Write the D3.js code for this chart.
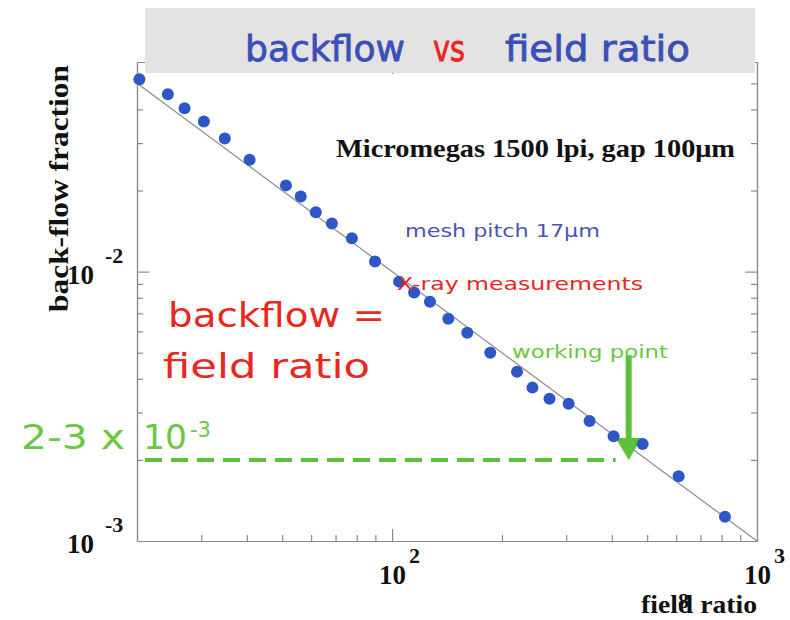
<!DOCTYPE html>
<html>
<head>
<meta charset="utf-8">
<script src="https://cdn.jsdelivr.net/npm/d3@7"></script>
<style>
  body { margin: 0; background: #fff; }
  svg { display: block; }
</style>
</head>
<body>
<svg id="chart" width="790" height="620"></svg>
<script>
var fieldRatio = [20.3, 24.3, 27.0, 30.5, 34.8, 40.7, 51.2, 56.2, 61.8, 68.4, 77.6, 89.8, 104.5, 114.9,
                  127, 142.6, 160.7, 185.8, 220, 242.5, 270, 304.6, 347.7, 404.6, 486, 610, 817];
var backflow   = [0.0518, 0.0455, 0.0404, 0.0361, 0.0312, 0.0260, 0.0209, 0.0190, 0.0166, 0.0151, 0.0133,
                  0.0109, 0.00918, 0.00836, 0.00773, 0.00668, 0.00593, 0.00500, 0.00425, 0.00371,
                  0.00337, 0.00323, 0.00279, 0.00245, 0.00229, 0.00174, 0.00123];

// backflow = 1 / field ratio
var fitX = [20, 1000];
var fitY = [0.05, 0.001];

var xMinorTicks = [30, 40, 50, 60, 70, 80, 90, 200, 300, 400, 500, 600, 700, 800, 900];
var xMajorTicks = [100];
var yMinorTicks = [0.002, 0.003, 0.004, 0.005, 0.006, 0.007, 0.008, 0.009, 0.02, 0.03, 0.04, 0.05];
var yMajorTicks = [0.01];
var xTickLabels = [{v: 100, exp: "2"}, {v: 1000, exp: "3"}];
var yTickLabels = [{v: 0.01, exp: "-2"}, {v: 0.001, exp: "-3"}];

// working point
var workX = 445, workTop = 0.0049, workLevel = 0.002, dashEnd = 410;

var svg = d3.select("#chart");
var x = d3.scaleLog().domain([20, 1000]).range([137, 757]);
var y = d3.scaleLog().domain([0.001, 0.06]).range([541, 62]);

var serif = "Liberation Serif, Times New Roman, serif";
var hand = "DejaVu Sans, sans-serif";

// ---- frame and ticks ----
function styleAxis(g){
	g.select(".domain").attr("stroke", "#8a8a8a").attr("stroke-width", 1.2);
	g.selectAll(".tick line").attr("stroke", "#8a8a8a").attr("stroke-width", 1.2);
	g.selectAll(".tick text").remove();
}
var axes = [
	{gen: d3.axisBottom, sc: x, t: "translate(0,541)", minor: xMinorTicks, major: xMajorTicks},
	{gen: d3.axisTop,    sc: x, t: "translate(0,62)",  minor: xMinorTicks, major: xMajorTicks},
	{gen: d3.axisLeft,   sc: y, t: "translate(137,0)", minor: yMinorTicks, major: yMajorTicks},
	{gen: d3.axisRight,  sc: y, t: "translate(757,0)", minor: yMinorTicks, major: yMajorTicks}
];
axes.forEach(function(a){
	svg.append("g").attr("transform", a.t)
		.call(a.gen(a.sc).tickValues(a.minor).tickSize(-6).tickSizeOuter(0).tickFormat(""))
		.call(styleAxis);
	svg.append("g").attr("transform", a.t)
		.call(a.gen(a.sc).tickValues(a.major).tickSize(-12).tickSizeOuter(0).tickFormat(""))
		.call(styleAxis);
});

// ---- title box ----
svg.append("rect").attr("x", 145).attr("y", 8).attr("width", 610).attr("height", 65).attr("fill", "#e3e3e3");
var title = svg.append("text").attr("y", 61).attr("font-family", hand).attr("font-size", 36)
	.attr("stroke-width", 0.8);
title.append("tspan").attr("x", 245).attr("fill", "#3b50b4").attr("stroke", "#3b50b4").text("backflow")
	.attr("textLength", 160).attr("lengthAdjust", "spacingAndGlyphs");
title.append("tspan").attr("x", 433).attr("fill", "#e8281e").attr("stroke", "#e8281e").text("vs")
	.attr("textLength", 32).attr("lengthAdjust", "spacingAndGlyphs");
title.append("tspan").attr("x", 505).attr("fill", "#3b50b4").attr("stroke", "#3b50b4").text("field ratio")
	.attr("textLength", 185).attr("lengthAdjust", "spacingAndGlyphs");

// ---- fit line ----
svg.append("line")
	.attr("x1", x(fitX[0])).attr("y1", y(fitY[0]))
	.attr("x2", x(fitX[1])).attr("y2", y(fitY[1]))
	.attr("stroke", "#8c8c8c").attr("stroke-width", 1.2);

// ---- working point marker ----
svg.append("line")
	.attr("x1", x(20) + 8).attr("x2", x(dashEnd))
	.attr("y1", y(workLevel)).attr("y2", y(workLevel))
	.attr("stroke", "#5cc23a").attr("stroke-width", 4).attr("stroke-dasharray", "17,9");

var ax = x(workX), ayTop = y(workTop), ayTip = y(workLevel);
svg.append("line").attr("x1", ax).attr("x2", ax).attr("y1", ayTop).attr("y2", ayTip - 20)
	.attr("stroke", "#5cc23a").attr("stroke-width", 6);
svg.append("path")
	.attr("d", "M" + (ax - 13) + "," + (ayTip - 22) + " L" + (ax + 13) + "," + (ayTip - 22) + " L" + ax + "," + ayTip + " Z")
	.attr("fill", "#5cc23a");

// ---- data points ----
svg.append("g").selectAll("circle")
	.data(d3.zip(fieldRatio, backflow))
	.join("circle")
	.attr("cx", function(d){ return x(d[0]); })
	.attr("cy", function(d){ return y(d[1]); })
	.attr("r", 6)
	.attr("fill", "#2e56c6");

// ---- annotations ----
svg.append("text").attr("x", 336).attr("y", 157)
	.attr("font-family", serif).attr("font-weight", "bold").attr("font-size", 25)
	.attr("fill", "#111").attr("textLength", 399).attr("lengthAdjust", "spacingAndGlyphs")
	.text("Micromegas 1500 lpi, gap 100\u03bcm");

svg.append("text").attr("x", 405).attr("y", 237)
	.attr("font-family", hand).attr("font-size", 18).attr("fill", "#4a55b0")
	.attr("textLength", 195).attr("lengthAdjust", "spacingAndGlyphs")
	.text("mesh pitch 17\u00b5m");

svg.append("text").attr("x", 397).attr("y", 290)
	.attr("font-family", hand).attr("font-size", 18).attr("fill", "#e8281e")
	.attr("textLength", 246).attr("lengthAdjust", "spacingAndGlyphs")
	.text("X-ray measurements");

svg.append("text").attr("x", 168).attr("y", 327)
	.attr("font-family", hand).attr("font-size", 34).attr("fill", "#e8281e")
	.attr("textLength", 217).attr("lengthAdjust", "spacingAndGlyphs")
	.text("backflow =");
svg.append("text").attr("x", 163).attr("y", 378)
	.attr("font-family", hand).attr("font-size", 34).attr("fill", "#e8281e")
	.attr("textLength", 207).attr("lengthAdjust", "spacingAndGlyphs")
	.text("field ratio");

svg.append("text").attr("x", 512).attr("y", 358)
	.attr("font-family", hand).attr("font-size", 18).attr("fill", "#6cc644")
	.attr("textLength", 156).attr("lengthAdjust", "spacingAndGlyphs")
	.text("working point");

var wl = svg.append("text").attr("y", 449).attr("font-family", hand).attr("font-size", 34).attr("fill", "#6cc644");
wl.append("tspan").attr("x", 21).text("2-3 x")
	.attr("textLength", 104).attr("lengthAdjust", "spacingAndGlyphs");
wl.append("tspan").attr("x", 143).text("10")
	.attr("textLength", 44).attr("lengthAdjust", "spacingAndGlyphs");
wl.append("tspan").attr("x", 190).attr("dy", -12).attr("font-size", 21).text("-3");

// ---- tick labels ----
yTickLabels.forEach(function(t){
	var g = svg.append("text").attr("font-family", serif).attr("font-weight", "bold").attr("fill", "#111")
		.attr("y", y(t.v) + 12);
	g.append("tspan").attr("x", 67).attr("font-size", 27).text("10");
	g.append("tspan").attr("x", 105).attr("dy", -21).attr("font-size", 22).text(t.exp);
});
xTickLabels.forEach(function(t){
	var g = svg.append("text").attr("font-family", serif).attr("font-weight", "bold").attr("fill", "#111")
		.attr("y", 584);
	g.append("tspan").attr("x", x(t.v) - 13).attr("font-size", 27).text("10");
	g.append("tspan").attr("x", x(t.v) + 17).attr("dy", -21).attr("font-size", 22).text(t.exp);
});

// ---- axis titles ----
svg.append("text")
	.attr("transform", "translate(68,312) rotate(-90)")
	.attr("font-family", serif).attr("font-weight", "bold").attr("font-size", 27).attr("fill", "#111")
	.attr("textLength", 247).attr("lengthAdjust", "spacingAndGlyphs")
	.text("back-flow fraction");

svg.append("text").attr("x", 641).attr("y", 613)
	.attr("font-family", serif).attr("font-weight", "bold").attr("font-size", 26).attr("fill", "#111")
	.attr("textLength", 116).attr("lengthAdjust", "spacingAndGlyphs")
	.text("field ratio");
svg.append("text").attr("x", 678).attr("y", 608)
	.attr("font-family", serif).attr("font-weight", "bold").attr("font-size", 22).attr("fill", "#111")
	.text("8");
</script>
</body>
</html>
